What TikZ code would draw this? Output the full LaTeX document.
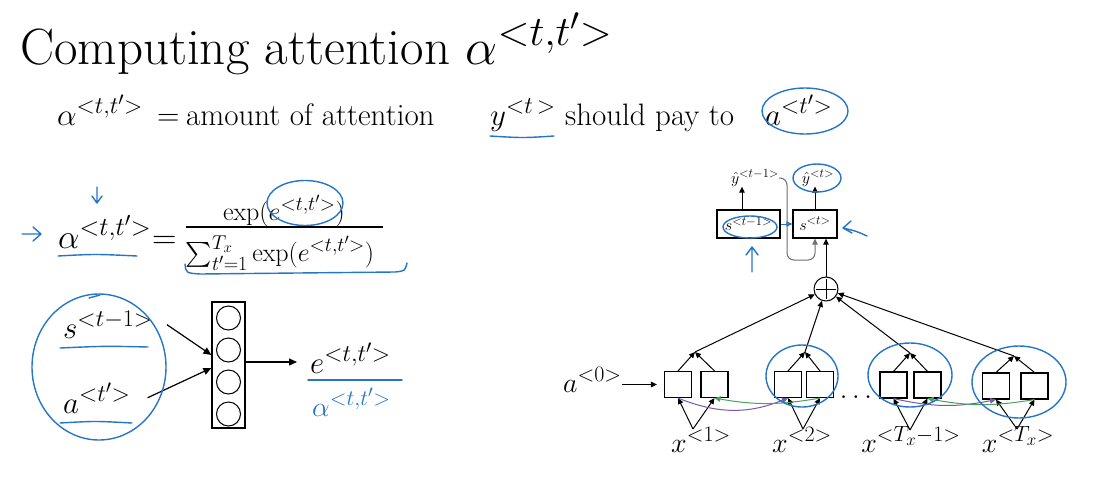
\RequirePackage{fix-cm}
\documentclass[tikz,border=0pt]{standalone}
\usepackage{amsmath}
\usetikzlibrary{arrows.meta,shapes.geometric,calc}
\DeclareMathSizes{51}{51}{42}{32}
\DeclareMathSizes{31}{31}{24}{19}
\DeclareMathSizes{34}{34}{26}{20}
\DeclareMathSizes{26}{26}{20}{15}
\DeclareMathSizes{28}{28}{22}{17}
\DeclareMathSizes{16}{16}{12.5}{10}
\newcommand{\setfs}[1]{\fontsize{#1}{#1}\selectfont}
\definecolor{hblue}{RGB}{38,118,200}
\definecolor{apurple}{RGB}{118,88,175}
\definecolor{agreen}{RGB}{74,163,92}
\definecolor{agray}{RGB}{110,110,110}
\begin{document}
\begin{tikzpicture}[x=1pt,y=-1pt,
  txt/.style={inner sep=0pt},
  arr/.style={-{Triangle[length=8pt,width=7pt]}, line width=1.2pt},
  sarr/.style={-{Triangle[length=6pt,width=5.5pt]}, line width=1pt},
  hand/.style={draw=hblue, line width=1.4pt, line cap=round, line join=round},
  handell/.style={draw=hblue, line width=1.4pt, ellipse, inner sep=0pt},
  cell/.style={draw, line width=1.1pt, minimum width=27pt, minimum height=26pt, inner sep=0pt},
]
\useasboundingbox[fill=white] (0,0) rectangle (1108,485);

% ---------- title and definition ----------
\node[txt,anchor=base west] (title) at (20,64) {\setfs{51}Computing attention $\alpha^{<t,t'>}$};
\node[txt,anchor=base west] (dA) at (57,125) {\setfs{31}$\alpha^{<t,t'>}$};
\node[txt,anchor=base west] (dEq) at (157,125) {\setfs{31}$=$};
\node[txt,anchor=base west] (dAm) at (186,125) {\setfs{31}amount of attention};
\node[txt,anchor=base west] (dY) at (490,125) {\setfs{31}$y^{<t\,>}$};
\node[txt,anchor=base west] (dS) at (565,125) {\setfs{31}should pay to};
\node[txt,anchor=base west] (dAt) at (765,125) {\setfs{31}$a^{<t'>}$};
\draw[hand] ($(dY.base west)+(0,11)$) .. controls ($(dY.base)+(0,13)$) .. ($(dY.base east)+(-2,11)$);
\node[handell,minimum width=86pt,minimum height=46pt] (cAt) at (805,111) {};

% ---------- softmax formula ----------
\node[txt,anchor=base west] (fA) at (58,248) {\setfs{34}$\alpha^{<t,t'>}$};
\node[txt,anchor=base west] (fEq) at (152,248) {\setfs{34}$=$};
\node[txt,anchor=base] (fNum) at (284,220) {\setfs{26}$\exp(e^{<t,t'>})$};
\node[txt,anchor=base] (fDen) at (280,261) {\setfs{26}$\sum_{t'=1}^{T_x}\exp(e^{<t,t'>})$};
\draw[line width=1.1pt] (fDen.west |- 0,227) -- (383,227);
% blue marks
\draw[hand] (22,234) -- (40,234) (33,227) -- (41,234) -- (33,241);
\draw[hand] (97,187) -- (97,202) (92,196) -- (97,203) -- (102,196);
\draw[hand] (58,256) .. controls (95,254) .. (137,256);
\node[handell,minimum width=76pt,minimum height=45pt] (cNum) at (305,203) {};
\draw[hand] (185,264) .. controls (186,273) .. (200,274) -- (395,272) .. controls (405,271) .. (407,263);

% ---------- scoring network ----------
\node[txt,anchor=base west] (s1) at (63,338) {\setfs{31}$s^{<t-1>}$};
\node[txt,anchor=base west] (a1) at (63,413) {\setfs{31}$a^{<t'>}$};
\node[draw,line width=1.2pt,minimum width=33pt,minimum height=126pt,inner sep=0pt] (net) at (228.5,365) {};
\foreach \i/\yy in {1/318,2/350,3/382,4/414}
  \node[draw,circle,line width=1pt,minimum size=24pt,inner sep=0pt] (c\i) at (228.5,\yy) {};
\draw[arr] ([xshift=14pt]s1.east) -- ([yshift=10pt]net.west);
\draw[arr] ([xshift=17pt]a1.east) -- ([yshift=-3pt]net.west);
\node[txt,anchor=base west] (e1) at (310,373) {\setfs{31}$e^{<t,t'>}$};
\coordinate (eIn) at (297,362);
\draw[arr] (net.east |- eIn) -- (eIn);
\node[txt,anchor=base west,text=hblue] (ha) at (312,416) {\setfs{28}$\alpha^{<t,t'>}$};
% blue marks
\draw[hand] (60,348) .. controls (105,346) .. (148,347);
\draw[hand] (60,423) .. controls (95,421) .. (132,423);
\draw[hand] (89,298) -- (100,295);
\draw[hand] (308,380) -- (402,380);
\node[handell,minimum width=134pt,minimum height=146pt] (cIn) at (99,367) {};

% ---------- attention model (right) ----------
\node[cell] (p1a) at (678,384.5) {};
\node[cell] (p1b) at (714.5,384.5) {};
\node[cell] (p2a) at (788,384.5) {};
\node[cell] (p2b) at (820,384.5) {};
\node[cell] (p3a) at (893.5,385) {};
\node[cell] (p3b) at (927.5,385) {};
\node[cell] (p4a) at (996,386) {};
\node[cell] (p4b) at (1034.5,386) {};
\node[txt,anchor=base] (dots) at (856,398) {\setfs{28}$\ldots$};

\node[txt,anchor=base west] (a0) at (563,392) {\setfs{28}$a^{<0>}$};
\draw[sarr] (a0.east |- p1a.west) -- ([xshift=-7pt]p1a.west);

\coordinate (m1) at (695,352);
\coordinate (m2) at (805,352);
\coordinate (m3) at (910,353);
\coordinate (m4) at (1014,356);
\coordinate (v1) at (693,429);
\coordinate (v2) at (803,429);
\coordinate (v3) at (910,430);
\coordinate (v4) at (1017,429);
\foreach \k in {1,2,3,4}{
  \draw[sarr] (p\k a.north) -- (m\k);
  \draw[sarr] (p\k b.north) -- (m\k);
  \draw[sarr] (v\k) -- (p\k a.south);
  \draw[sarr] (v\k) -- (p\k b.south);
}
\node[txt,anchor=base] (x1) at (701,452) {\setfs{28}$x^{<1>}$};
\node[txt,anchor=base] (x2) at (802,452) {\setfs{28}$x^{<2>}$};
\node[txt,anchor=base] (x3) at (911,452) {\setfs{28}$x^{<T_x-1>}$};
\node[txt,anchor=base] (x4) at (1018,452) {\setfs{28}$x^{<T_x>}$};

% bidirectional connections
\draw[sarr,apurple] (p1a.south) to[bend right=22] (p2a.south);
\draw[sarr,agreen] (p2b.south) to[bend left=10] (p1b.south);
\draw[sarr,apurple] (p3a.south) to[bend right=12] (p4a.south);
\draw[sarr,agreen] (p4b.south) to[bend left=10] (p3b.south);

% sum node
\node[draw,circle,line width=1pt,minimum size=24pt,inner sep=0pt] (plus) at (826,289) {};
\draw[line width=1pt] ($(plus)+(0,-10)$) -- ($(plus)+(0,10)$) ($(plus)+(-10,0)$) -- ($(plus)+(10,0)$);
\foreach \k in {1,2,3,4} \draw[sarr] (m\k) -- (plus);

% decoder states
\node[draw,line width=1.6pt,minimum width=63pt,minimum height=28pt,inner sep=0pt] (st1) at (748.5,224) {\setfs{16}$s^{<t-1>}$};
\node[draw,line width=1.3pt,minimum width=44pt,minimum height=28pt,inner sep=0pt] (st) at (815,224) {\setfs{16}$s^{<t>}$};
\node[txt] (yt1) at (755,178) {\setfs{16}$\hat y^{<t-1>}$};
\node[txt] (yt) at (818,178) {\setfs{16}$\hat y^{<t>}$};
\coordinate (u1) at ([xshift=-6.5pt]st1.north);
\draw[sarr] (u1) -- (u1 |- yt1.south);
\draw[sarr] (st.north) -- (st.north |- yt.south);
\draw[sarr,hblue] (st1.east) -- (st.west);
\coordinate (gk) at (787,260);
\draw[sarr,draw=agray,rounded corners=7pt] (yt1.east) -| (gk) -| (st.south);
\draw[sarr] (plus.north) -- (plus.north |- st.south);

% blue marks (right)
\node[handell,minimum width=72pt,minimum height=62pt] (cP2) at (802,376) {};
\node[handell,minimum width=84pt,minimum height=64pt] (cP3) at (910,375) {};
\node[handell,minimum width=94pt,minimum height=72pt] (cP4) at (1019,382) {};
\node[handell,minimum width=54pt,minimum height=22pt] (cS1) at (750,227) {};
\node[handell,minimum width=48pt,minimum height=28pt] (cYt) at (817,178) {};
\draw[hand] (752,272) -- (752,248) (746,255) -- (752,247) -- (758,255);
\draw[hand] (867,236) .. controls (856,231) .. (843,228) (851,221) -- (843,228) -- (852,233);
\end{tikzpicture}
\end{document}
